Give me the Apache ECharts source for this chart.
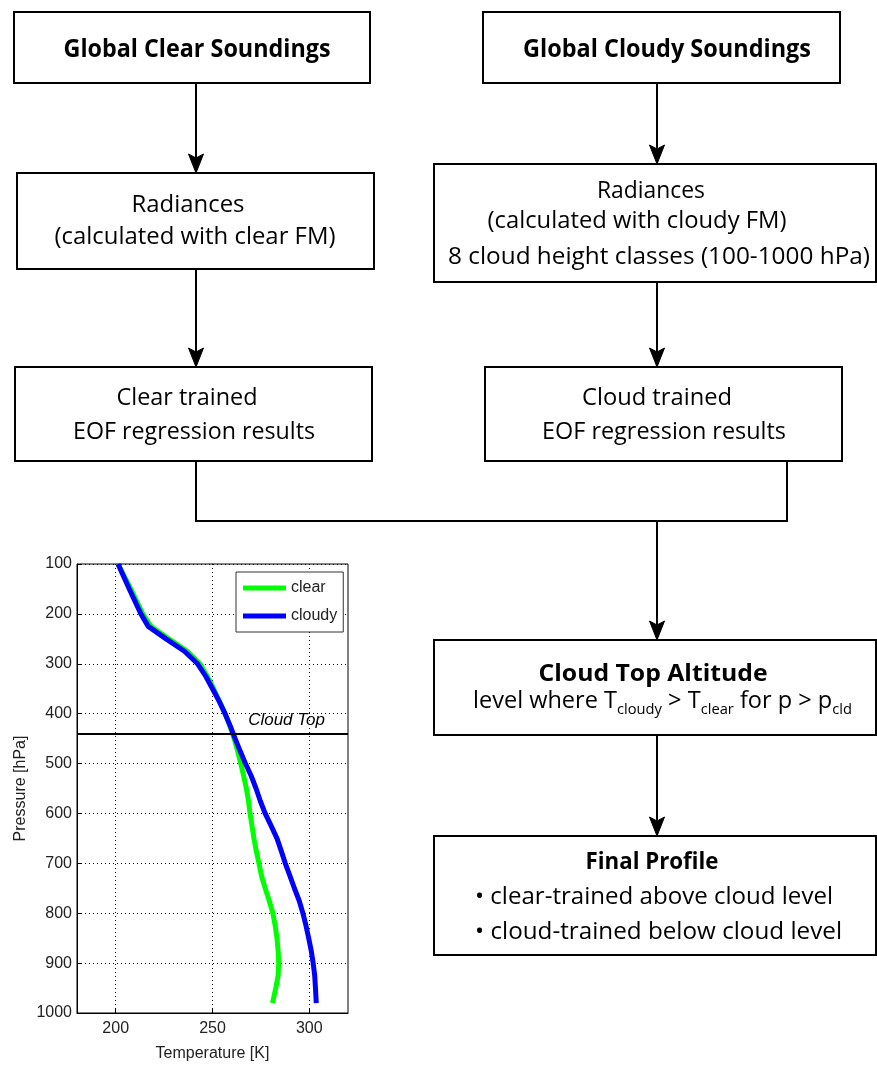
<!DOCTYPE html>
<html>
<head>
<meta charset="utf-8">
<title>Cloud-trained retrieval flow</title>
<script src="https://cdn.jsdelivr.net/npm/echarts@6/dist/echarts.min.js"></script>
<style>
  html, body { margin: 0; padding: 0; background: #fff; }
  #chart { width: 877px; height: 1065px; }
</style>
</head>
<body>
<div id="chart"></div>
<script>
// ---- Profile data: temperature (K) at pressure levels (hPa) ----
const clearPressure = [100, 150, 200, 225, 250, 275, 300, 325, 350, 375, 400, 425, 450, 475, 500, 525, 550, 575, 600, 625, 650, 675, 700, 725, 750, 775, 800, 825, 850, 875, 900, 925, 950, 980];
const clearTemp     = [201.2, 207.8, 214.0, 218.2, 227.5, 237.0, 243.5, 247.3, 250.6, 253.6, 256.5, 259.0, 261.2, 263.0, 264.6, 266.1, 267.5, 268.6, 269.4, 270.4, 271.4, 272.6, 274.0, 275.3, 277.2, 279.3, 281.2, 282.4, 283.3, 283.9, 284.2, 283.9, 282.7, 281.0];

const cloudyPressure = [100, 150, 200, 225, 250, 275, 300, 325, 350, 375, 400, 425, 450, 475, 500, 525, 550, 575, 600, 625, 650, 675, 700, 725, 750, 775, 800, 825, 850, 875, 900, 925, 950, 980];
const cloudyTemp     = [201.2, 207.0, 213.0, 216.8, 226.0, 235.5, 242.3, 246.5, 250.0, 253.4, 256.5, 259.2, 261.7, 264.3, 267.0, 270.0, 272.5, 274.7, 277.2, 280.3, 283.3, 285.5, 287.6, 290.0, 292.3, 294.8, 296.7, 298.3, 299.7, 301.0, 302.0, 302.8, 303.2, 303.6];

const cloudTopPressure = 440;
const seriesNames = ['clear', 'cloudy'];
const tempTicks = [200, 250, 300];

// ---- Fonts ----
const FLOW_FONT = "'Open Sans', 'Noto Sans', sans-serif";
const PLOT_FONT = "'Liberation Sans', Arial, sans-serif";

const measureCtx = document.createElement('canvas').getContext('2d');
function textWidth(str, font) {
  measureCtx.font = font;
  return measureCtx.measureText(str).width;
}

// Text element, optionally squeezed horizontally to a given width
function label(str, x, y, opts) {
  opts = opts || {};
  const size = opts.size || 24;
  const font = (opts.bold ? 'bold ' : 'normal ') + size + 'px ' + FLOW_FONT;
  const sx = opts.width ? opts.width / textWidth(str, font) : 1;
  const align = opts.align || 'center';
  return {
    type: 'text', x: x, y: y + 2, scaleX: sx, z: 10,
    style: {
      text: str, font: font, fill: '#000',
      align: align, verticalAlign: 'middle',
      textAlign: align, textVerticalAlign: 'middle'
    }
  };
}

// Line of text with subscripts: segments [text, isSub]
function subscriptLine(segments, x, y, width, size, subSize) {
  const mainFont = 'normal ' + size + 'px ' + FLOW_FONT;
  const subFont = 'normal ' + subSize + 'px ' + FLOW_FONT;
  let cursor = 0;
  const children = [];
  segments.forEach(function (seg) {
    const font = seg[1] ? subFont : mainFont;
    const fs = seg[1] ? subSize : size;
    // subscripts sit a few pixels below the main baseline
    const baselineY = seg[1] ? 5 : 0;
    children.push({
      type: 'text', x: cursor, y: baselineY - 0.39 * fs, z: 10,
      style: {
        text: seg[0], font: font, fill: '#000',
        align: 'left', verticalAlign: 'middle',
        textAlign: 'left', textVerticalAlign: 'middle'
      }
    });
    cursor += textWidth(seg[0], font);
  });
  return { type: 'group', x: x, y: y, scaleX: width / cursor, children: children };
}

function box(x, y, w, h) {
  return {
    type: 'rect', z: 5,
    shape: { x: x, y: y, width: w, height: h },
    style: { fill: '#fff', stroke: '#000', lineWidth: 2 }
  };
}

function path(points) {
  return {
    type: 'polyline', z: 4,
    shape: { points: points },
    style: { stroke: '#000', lineWidth: 2, fill: null }
  };
}

function arrow(x, y0, y1) {
  return [
    path([[x, y0], [x, y1 - 12]]),
    {
      type: 'polygon', z: 6,
      shape: { points: [[x - 7.5, y1 - 19], [x, y1 - 15], [x + 7.5, y1 - 19], [x, y1]] },
      style: { fill: '#000', stroke: '#000', lineWidth: 1 }
    }
  ];
}

const flow = [].concat(
  // boxes
  box(14, 12, 356, 71),
  box(483, 12, 357, 71),
  box(17, 173, 357, 96),
  box(434, 164, 442, 118),
  box(15, 367, 357, 94),
  box(485, 367, 357, 94),
  box(434, 640, 442, 95),
  box(434, 836, 442, 119),
  // connectors
  arrow(196, 83, 173),
  arrow(657, 83, 164),
  arrow(196, 269, 367),
  arrow(657, 282, 367),
  path([[196, 461], [196, 521], [787, 521], [787, 461]]),
  arrow(657, 521, 640),
  arrow(657, 735, 836),
  // box labels
  label('Global Clear Soundings', 197, 48, { size: 25, bold: true, width: 267 }),
  label('Global Cloudy Soundings', 667, 48, { size: 25, bold: true, width: 288 }),
  label('Radiances', 188, 203, { size: 24, width: 113 }),
  label('(calculated with clear FM)', 195, 235, { size: 24, width: 281 }),
  label('Radiances', 651, 189, { size: 24, width: 108 }),
  label('(calculated with cloudy FM)', 637, 219, { size: 24, width: 299 }),
  label('8 cloud height classes (100-1000 hPa)', 659, 255, { size: 24, width: 422 }),
  label('Clear trained', 187, 396, { size: 24, width: 141 }),
  label('EOF regression results', 194, 430, { size: 24, width: 242 }),
  label('Cloud trained', 657, 396, { size: 24, width: 150 }),
  label('EOF regression results', 664, 430, { size: 24, width: 244 }),
  label('Cloud Top Altitude', 653, 672, { size: 24, bold: true, width: 229 }),
  subscriptLine([
    ['level where T', false], ['cloudy', true], [' > T', false], ['clear', true],
    [' for p > p', false], ['cld', true]
  ], 473, 711, 379, 24, 15),
  label('Final Profile', 652, 860, { size: 24, bold: true, width: 133 }),
  label('\u2022 clear-trained above cloud level', 475, 895, { size: 24, width: 358, align: 'left' }),
  label('\u2022 cloud-trained below cloud level', 475, 930, { size: 24, width: 367, align: 'left' })
);

const plotText = { fontFamily: PLOT_FONT, fontSize: 16, color: '#222' };

function toPairs(temps, pressures) {
  return temps.map(function (t, i) { return [t, pressures[i]]; });
}

const chart = echarts.init(document.getElementById('chart'), null, { renderer: 'canvas' });

chart.setOption({
  animation: false,
  backgroundColor: '#fff',
  grid: {
    left: 77, top: 564, width: 271, height: 449,
    show: true, borderColor: '#000', borderWidth: 1,
    containLabel: false, outerBoundsMode: 'none'
  },
  legend: {
    data: seriesNames,
    orient: 'vertical',
    left: 236, top: 572,
    icon: 'rect', itemWidth: 43, itemHeight: 5, itemGap: 12, itemTextGap: 5,
    padding: [8, 6, 8, 7],
    backgroundColor: '#fff', borderColor: '#333', borderWidth: 1, borderRadius: 0,
    selectedMode: false,
    textStyle: { fontFamily: PLOT_FONT, fontSize: 16, color: '#222' }
  },
  xAxis: {
    type: 'value', min: 180, max: 320,
    name: 'Temperature [K]', nameLocation: 'middle', nameGap: 33,
    nameTextStyle: plotText,
    axisLine: { show: true, onZero: false, lineStyle: { color: '#000', width: 1 } },
    axisTick: { show: true, inside: true, length: 5, customValues: tempTicks, lineStyle: { color: '#000' } },
    axisLabel: Object.assign({ customValues: tempTicks, margin: 8 }, plotText),
    splitLine: { show: true, lineStyle: { color: '#000', width: 1, type: [1, 3] } }
  },
  yAxis: {
    type: 'value', inverse: true, min: 100, max: 1000, interval: 100,
    name: 'Pressure [hPa]', nameLocation: 'middle', nameGap: 48, nameRotate: 90,
    nameTextStyle: plotText,
    axisLine: { show: true, onZero: false, lineStyle: { color: '#000', width: 1 } },
    axisTick: { show: true, inside: true, length: 5, lineStyle: { color: '#000' } },
    axisLabel: Object.assign({ margin: 5, formatter: function (v) { return String(v); } }, plotText),
    splitLine: { show: true, lineStyle: { color: '#000', width: 1, type: [1, 3] } }
  },
  series: [
    {
      name: seriesNames[0], type: 'line',
      data: toPairs(clearTemp, clearPressure),
      symbol: 'none', showSymbol: false, smooth: false,
      lineStyle: { color: '#00ff00', width: 5 },
      itemStyle: { color: '#00ff00' },
      emphasis: { disabled: true }
    },
    {
      name: seriesNames[1], type: 'line',
      data: toPairs(cloudyTemp, cloudyPressure),
      symbol: 'none', showSymbol: false, smooth: false,
      lineStyle: { color: '#0000ff', width: 5 },
      itemStyle: { color: '#0000ff' },
      emphasis: { disabled: true },
      markLine: {
        silent: true, symbol: 'none', animation: false,
        lineStyle: { color: '#000', width: 2, type: 'solid' },
        label: {
          show: true, position: 'insideEndTop', formatter: 'Cloud Top',
          fontFamily: PLOT_FONT, fontSize: 17, fontStyle: 'italic', color: '#000',
          distance: [23, 5]
        },
        emphasis: { disabled: true },
        data: [{ yAxis: cloudTopPressure }]
      }
    }
  ],
  graphic: flow
});
</script>
</body>
</html>
